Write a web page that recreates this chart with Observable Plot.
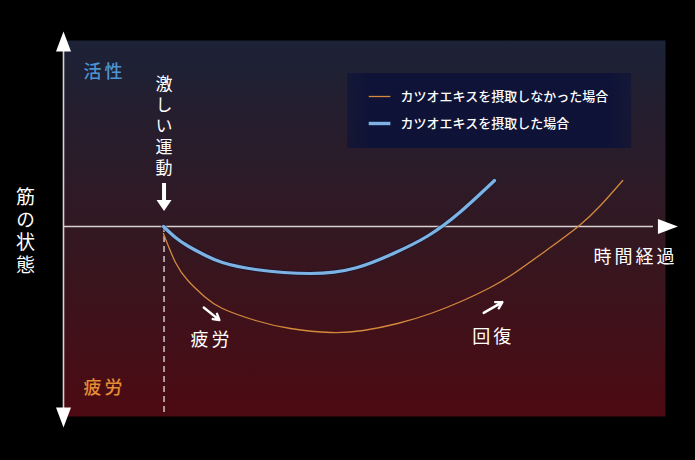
<!DOCTYPE html>
<html>
<head>
<meta charset="utf-8">
<script src="https://cdn.jsdelivr.net/npm/d3@7"></script>
<script src="https://cdn.jsdelivr.net/npm/@observablehq/plot@0.6"></script>
<style>
  html, body { margin: 0; padding: 0; background: #000; }
  #chart { width: 695px; height: 460px; }
</style>
</head>
<body>
<div id="chart"></div>
<script>
// ---- data (abstract units: time 0–100, muscle state -95..93, 0 = baseline) ----
const timeBlue   = [16.6, 18.6, 20.8, 23.6, 26.4, 31.9, 41.0, 48.5, 54.8, 60.5, 65.9, 71.6];
const stateBlue  = [0, -5.5, -10, -14.5, -18, -21.5, -23.5, -20.75, -13.5, -4.75, 7.25, 23];
const timeOrange  = [16.6, 18.6, 20.8, 23.6, 26.4, 31.9, 37.7, 44.4, 49.8, 55.5, 61.0, 66.4, 70.9, 74.8, 80.4, 85.5, 89.2, 92.9];
const stateOrange = [-3.5, -18, -27.5, -35.5, -41, -47, -51, -53, -52, -48.5, -43.5, -37, -30.5, -23.5, -11.5, 0, 10.5, 23];
const seriesNames = ["カツオエキスを摂取しなかった場合", "カツオエキスを摂取した場合"];
const exerciseTime = 16.7;
const yAxisLabel = "筋の状態";
const xAxisLabel = "時間経過";
const topLabel = "活性";
const bottomLabel = "疲労";
const exerciseLabel = "激しい運動";
const fatigueLabel = "疲労";
const recoveryLabel = "回復";

const orange = "#d4893c";
const blue = "#7db3e4";
const axisColor = "#d9d2d2";
const font = "Noto Sans CJK JP";

const blueData = timeBlue.map((t, i) => ({t, v: stateBlue[i]}));
const orangeData = timeOrange.map((t, i) => ({t, v: stateOrange[i]}));

// custom arrowhead symbols (pointing up; rotated as needed)
const bigHead = {draw(ctx) { ctx.moveTo(0, -10); ctx.lineTo(7.5, 10); ctx.lineTo(-7.5, 10); ctx.closePath(); }};
const smallHead = {draw(ctx) { ctx.moveTo(0, -5.5); ctx.lineTo(7.5, 5.5); ctx.lineTo(-7.5, 5.5); ctx.closePath(); }};

const plot = Plot.plot({
  width: 695,
  height: 460,
  marginLeft: 63,
  marginRight: 30,
  marginTop: 40,
  marginBottom: 44,
  x: {domain: [0, 100], axis: null},
  y: {domain: [-95, 93], axis: null},
  style: {background: "#000", fontFamily: font, color: "#fff", overflow: "visible"},
  marks: [
    Plot.frame({fill: "url(#bgGrad)", stroke: "none"}),
    // legend panel
    Plot.rect([0], {x1: 47.2, x2: 94.4, y1: 76.5, y2: 39, fill: "url(#legGrad)"}),
    // dashed exercise line
    Plot.ruleX([exerciseTime], {y1: 0, y2: -95, stroke: "#e6e0e0", strokeWidth: 1.3, strokeDasharray: "6,4"}),
    // axes
    Plot.ruleX([0], {y1: -92, y2: 88, stroke: axisColor, strokeWidth: 1.6}),
    Plot.ruleY([0], {x1: 0, x2: 98, stroke: axisColor, strokeWidth: 1.6}),
    Plot.dot([{t: 0, v: 92.5}], {x: "t", y: "v", symbol: bigHead, r: 5, fill: "#fff", stroke: "none"}),
    Plot.dot([{t: 0, v: -95.5}], {x: "t", y: "v", symbol: bigHead, r: 5, fill: "#fff", stroke: "none", rotate: 180}),
    Plot.dot([{t: 100.4, v: 0}], {x: "t", y: "v", symbol: bigHead, r: 5, fill: "#fff", stroke: "none", rotate: 90}),
    // curves
    Plot.line(orangeData, {x: "t", y: "v", stroke: orange, strokeWidth: 1.3, curve: "natural"}),
    Plot.line(blueData, {x: "t", y: "v", stroke: "#0e1530", strokeOpacity: 0.5, strokeWidth: 5, curve: "natural"}),
    Plot.line(blueData, {x: "t", y: "v", stroke: blue, strokeWidth: 3.2, curve: "natural"}),
    // legend entries
    Plot.link([0], {x1: 50.7, x2: 54.3, y1: 65, y2: 65, stroke: orange, strokeWidth: 1.3}),
    Plot.link([0], {x1: 50.7, x2: 54.3, y1: 51.5, y2: 51.5, stroke: blue, strokeWidth: 3.4}),
    Plot.text([seriesNames[0]], {x: 56.0, y: 65, text: d => d, textAnchor: "start", fill: "#fff", fontSize: 13, fontWeight: 500}),
    Plot.text([seriesNames[1]], {x: 56.0, y: 51.5, text: d => d, textAnchor: "start", fill: "#fff", fontSize: 13, fontWeight: 500}),
    // exercise annotation (vertical text)
    Plot.text([exerciseLabel], {x: exerciseTime, y: 52.3, text: d => d, fill: "#fff", fontSize: 17}),
    Plot.ruleX([exerciseTime], {y1: 21.5, y2: 12.5, stroke: "#fff", strokeWidth: 4}),
    Plot.dot([{t: exerciseTime, v: 10.5}], {x: "t", y: "v", symbol: smallHead, r: 5, fill: "#fff", stroke: "none", rotate: 180}),
    // axis labels
    Plot.text([yAxisLabel], {x: -6.3, y: 0, text: d => d, fill: "#fff", fontSize: 19}),
    Plot.text([xAxisLabel], {x: 95.0, y: -15.5, text: d => d, fill: "#fff", fontSize: 18}),
    Plot.text([topLabel], {x: 6.8, y: 77, text: d => d, fill: "#4b93d3", fontSize: 18, fontWeight: 500}),
    Plot.text([bottomLabel], {x: 6.8, y: -81, text: d => d, fill: "#e38d34", fontSize: 18, fontWeight: 500}),
    // fatigue / recovery annotations
    Plot.arrow([0], {x1: 23.3, y1: -40.5, x2: 25.9, y2: -46.8, stroke: "#fff", strokeWidth: 2.4, headLength: 6}),
    Plot.text([fatigueLabel], {x: 24.6, y: -57, text: d => d, fill: "#fff", fontSize: 18}),
    Plot.arrow([0], {x1: 69.8, y1: -43.2, x2: 72.9, y2: -37.8, stroke: "#fff", strokeWidth: 2.4, headLength: 6}),
    Plot.text([recoveryLabel], {x: 71.4, y: -55.5, text: d => d, fill: "#fff", fontSize: 18})
  ]
});

const svg = d3.select(plot);
svg.insert("defs", ":first-child").html(`
  <linearGradient id="bgGrad" x1="0" y1="0" x2="0" y2="1">
    <stop offset="0" stop-color="#1c2237"/>
    <stop offset="0.5" stop-color="#321822"/>
    <stop offset="1" stop-color="#4d0a12"/>
  </linearGradient>
  <linearGradient id="legGrad" x1="0" y1="0" x2="1" y2="0">
    <stop offset="0" stop-color="#0f1438" stop-opacity="0.7"/>
    <stop offset="0.08" stop-color="#0d1237" stop-opacity="0.95"/>
    <stop offset="0.92" stop-color="#0d1237" stop-opacity="0.95"/>
    <stop offset="1" stop-color="#0f1438" stop-opacity="0.7"/>
  </linearGradient>
`);
svg.selectAll("text").filter(function() {
  const s = this.textContent;
  return s === xAxisLabel || s === fatigueLabel || s === recoveryLabel || s === topLabel;
}).attr("letter-spacing", "3px");
// vertical Japanese labels
svg.selectAll("text").filter(function() { return this.textContent === exerciseLabel; })
  .attr("dy", null).style("writing-mode", "vertical-rl").attr("letter-spacing", "4px");
svg.selectAll("text").filter(function() { return this.textContent === yAxisLabel; })
  .attr("dy", null).style("writing-mode", "vertical-rl").attr("letter-spacing", "3.7px");

document.getElementById("chart").appendChild(plot);
</script>
</body>
</html>
